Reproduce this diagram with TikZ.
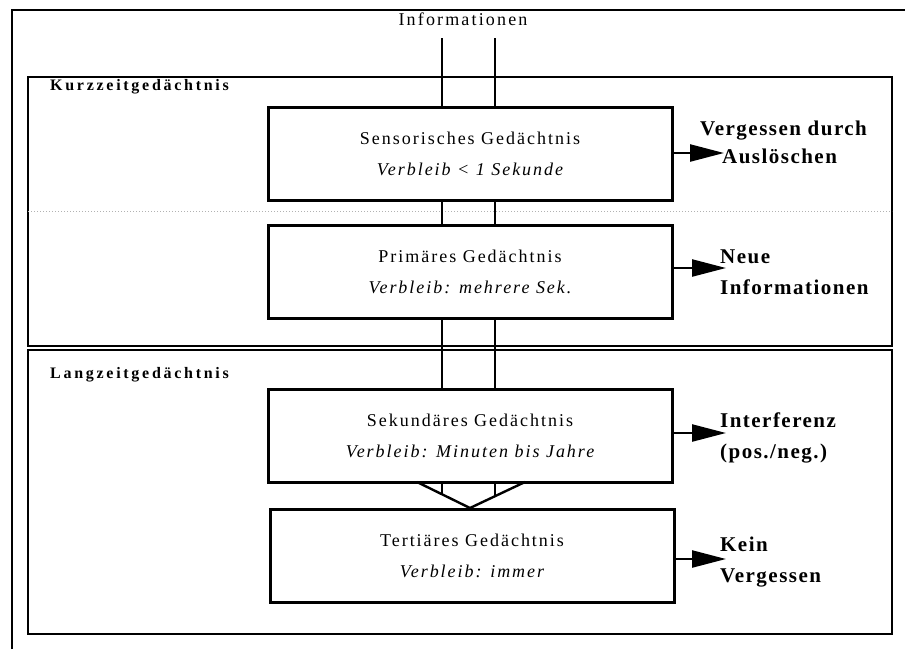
\documentclass[tikz,border=0pt]{standalone}
\usepackage{fontspec}
\setmainfont{Liberation Serif}
\usetikzlibrary{arrows.meta}
\newfontfamily\boxfnt[LetterSpace=11]{Liberation Serif}
\newfontfamily\infofnt[LetterSpace=12]{Liberation Serif}
\newfontfamily\lblfnt[LetterSpace=17]{Liberation Serif}
\newfontfamily\sidefnt[LetterSpace=7]{Liberation Serif}
\tikzset{
  membox/.style={draw, line width=3pt, minimum width=404pt, minimum height=93pt, inner sep=0pt, align=center, font=\boxfnt\fontsize{18}{31}\selectfont},
  frame/.style={draw, line width=2.6pt},
  flow/.style={line width=2.4pt},
  outarrow/.style={line width=2.4pt, -{Triangle[length=34pt,width=17pt]}},
  sidetext/.style={anchor=west, inner sep=0pt, align=left, font=\sidefnt\bfseries\fontsize{21}{31}\selectfont},
  zonelabel/.style={anchor=west, inner sep=0pt, font=\lblfnt\bfseries\fontsize{16}{18}\selectfont}
}
\begin{document}
\begin{tikzpicture}[x=1pt,y=-1pt]
\useasboundingbox (0,0) rectangle (905,649);
\fill[white] (0,0) rectangle (905,649);
% outer frame (partial)
\draw[line width=2.6pt] (12,649) -- (12,10) -- (905,10);
% zones
\draw[frame] (28,77) rectangle (892,346);
\draw[frame] (28,350) rectangle (892,634);
\draw[gray!60, dotted, line width=1pt] (28,211) -- (892,211);
\node[zonelabel] (kzg) at (50,87) {Kurzzeitgedächtnis};
\node[zonelabel] (lzg) at (50,375) {Langzeitgedächtnis};
% title
\node[inner sep=0pt, font=\infofnt\fontsize{18}{20}\selectfont] (info) at (463,19) {Informationen};
% boxes
\node[membox] (b1) at (470,153.5) {Sensorisches Gedächtnis\\\itshape Verbleib < 1 Sekunde};
\node[membox] (b2) at (470,271.5) {Primäres Gedächtnis\\\itshape Verbleib: mehrere Sek.};
\node[membox] (b3) at (470,435.5) {Sekundäres Gedächtnis\\\itshape Verbleib: Minuten bis Jahre};
\node[membox] (b4) at (472,556) {Tertiäres Gedächtnis\\\itshape Verbleib: immer};
% flow lines
\coordinate (il) at (442,38);
\coordinate (ir) at (495,38);
\draw[flow] (il) -- (il |- b1.north);
\draw[flow] (ir) -- (ir |- b1.north);
\draw[flow] (il |- b1.south) -- (il |- b2.north);
\draw[flow] (ir |- b1.south) -- (ir |- b2.north);
\draw[flow] (il |- b2.south) -- (il |- b3.north);
\draw[flow] (ir |- b2.south) -- (ir |- b3.north);
% V between b3 and b4
\coordinate (vl) at (417,482);
\coordinate (vr) at (525,482);
\coordinate (vm) at (470,508);
\coordinate (vli) at (442,494);
\coordinate (vri) at (495,496);
\draw[flow] (vl) -- (vm) -- (vr);
\draw[flow] (il |- b3.south) -- (vli);
\draw[flow] (ir |- b3.south) -- (vri);
% side texts
\node[sidetext] (vd) at (700,131) {Vergessen durch};
\node[sidetext] (t1) at (722,156) {Auslöschen};
\node[sidetext] (t2) at (720,272) {Neue\\Informationen};
\node[sidetext] (t3) at (720,438) {Interferenz\\(pos./neg.)};
\node[sidetext] (t4) at (720,562) {Kein\\Vergessen};
% arrows
\coordinate (a1) at (724,153);
\coordinate (a2) at (726,268);
\coordinate (a3) at (726,433);
\coordinate (a4) at (726,559);
\draw[outarrow] (b1.east |- a1) -- (a1);
\draw[outarrow] (b2.east |- a2) -- (a2);
\draw[outarrow] (b3.east |- a3) -- (a3);
\draw[outarrow] (b4.east |- a4) -- (a4);
\end{tikzpicture}
\end{document}
